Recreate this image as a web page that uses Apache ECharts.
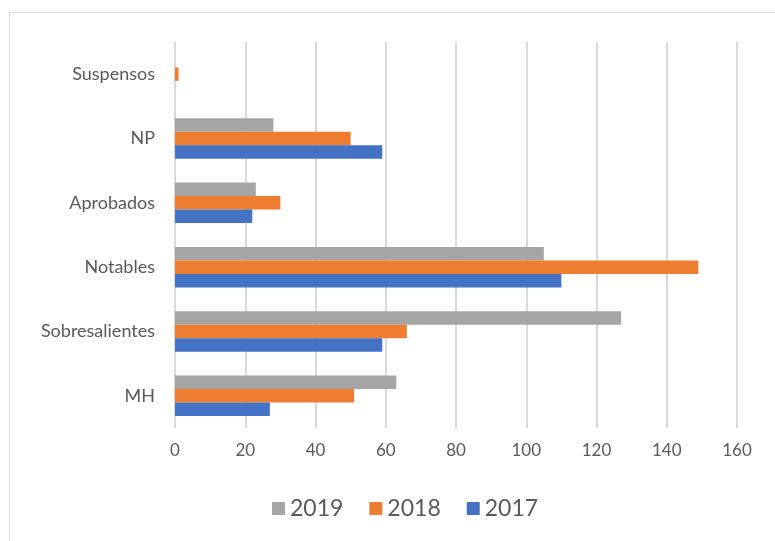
<!DOCTYPE html>
<html><head><meta charset="utf-8">
<script src="https://cdn.jsdelivr.net/npm/echarts@6/dist/echarts.min.js"></script>
<style>html,body{margin:0;padding:0;background:#fff}#c{width:775px;height:541px}</style>
</head><body><div id="c"></div>
<script>
const categories = ['MH','Sobresalientes','Notables','Aprobados','NP','Suspensos'];
const s2017 = [27, 59, 110, 22, 59, null];
const s2018 = [51, 66, 149, 30, 50, 1];
const s2019 = [63, 127, 105, 23, 28, null];
const xTicks = [0,20,40,60,80,100,120,140,160];

const font = 'Lato, "Open Sans", sans-serif';
const chart = echarts.init(document.getElementById('c'));
chart.setOption({
  animation:false,
  textStyle:{fontFamily:font},
  graphic:[{type:'rect',shape:{x:9.5,y:12.5,width:800,height:600},style:{fill:'none',stroke:'#d9d9d9',lineWidth:1}}],
  legend:{data:['2019','2018','2017'],bottom:16,left:267,itemWidth:13,itemHeight:13,itemGap:26,
    icon:'rect',textStyle:{fontSize:23,color:'#595959',fontFamily:font}},
  grid:{left:175,right:38,top:42,bottom:113,containLabel:false},
  xAxis:{type:'value',min:0,max:160,interval:20,
    axisLine:{show:false},axisTick:{show:false},
    axisLabel:{fontSize:17,color:'#595959',margin:14,formatter:v=>xTicks.includes(v)?String(v):''},
    splitLine:{lineStyle:{color:'#d9d9d9',width:2}}},
  yAxis:{type:'category',data:categories,
    axisLine:{show:false},axisTick:{show:false},
    axisLabel:{fontSize:18,color:'#595959',margin:20}},
  series:[
    {name:'2019',type:'bar',data:s2019,itemStyle:{color:'#A5A5A5'},barGap:'0%',barCategoryGap:'37%'},
    {name:'2018',type:'bar',data:s2018,itemStyle:{color:'#ED7D31'},barGap:'0%',barCategoryGap:'37%'},
    {name:'2017',type:'bar',data:s2017,itemStyle:{color:'#4472C4'},barGap:'0%',barCategoryGap:'37%'}
  ]
});
</script></body></html>
